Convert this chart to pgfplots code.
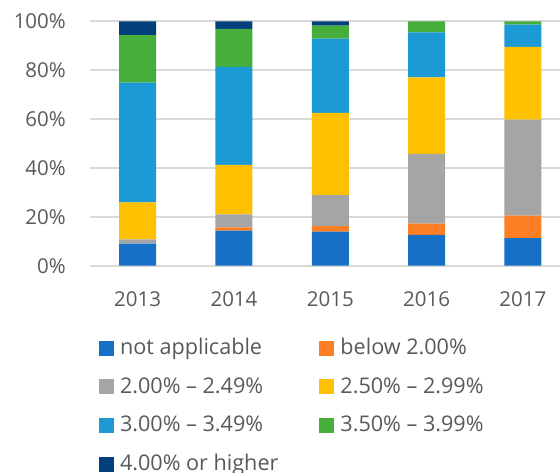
\documentclass[border=0pt]{standalone}
\usepackage{pgfplots}
\pgfplotsset{compat=1.18}
\usepackage{fontspec}
\setmainfont{Open Sans}
\definecolor{txt}{HTML}{595959}
\definecolor{grd}{HTML}{D9D9D9}
\definecolor{cNA}{HTML}{1570C6}
\definecolor{cB}{HTML}{FD7E23}
\definecolor{cG}{HTML}{A5A5A5}
\definecolor{cY}{HTML}{FFC000}
\definecolor{cL}{HTML}{1C9AD6}
\definecolor{cGr}{HTML}{46AE3A}
\definecolor{cN}{HTML}{023F7B}
\pgfplotstableread{
x na below a b c d e
0 9.0 0.0 1.8 15.1 49.0 19.4 5.7
1 14.3 1.4 5.3 20.3 40.1 15.5 3.1
2 13.9 2.3 12.7 33.6 30.4 5.3 1.8
3 12.6 4.6 28.6 31.3 18.4 4.5 0.0
4 11.3 9.2 39.3 29.7 9.1 1.4 0.0
}\data
\begin{document}
\fontsize{20}{24}\selectfont
\begin{tikzpicture}
\useasboundingbox (0,0) rectangle (560pt,473pt);
\begin{axis}[
  at={(90pt,207.3pt)}, anchor=south west,
  scale only axis, width=470pt, height=244.4pt,
  ybar stacked, bar width=37pt,
  xmin=-0.495, xmax=4.385, ymin=0, ymax=100,
  xtick={0,1,2,3,4}, xticklabels={2013,2014,2015,2016,2017},
  ytick={0,20,40,60,80,100}, yticklabels={0\%,20\%,40\%,60\%,80\%,100\%},
  ymajorgrids, grid style={grd, line width=2pt},
  axis line style={draw=none}, major tick length=0pt,
  tick label style={font=\fontsize{20.5}{24}\selectfont, text=txt},
  yticklabel style={inner sep=0pt, anchor=east, xshift=-24pt},
  xticklabel style={inner sep=0pt, anchor=north, yshift=-26pt},
  clip=false,
  legend columns=2,
  legend cell align=left,
  legend image code/.code={\fill[#1] (0pt,-7.5pt) rectangle (15pt,7.5pt);},
  legend style={draw=none, fill=none, inner sep=0pt, outer sep=0pt,
    at={(0.0192,-0.2576)}, anchor=north west,
    font=\fontsize{21.6}{26}\selectfont, text=txt,
    row sep=0pt, column sep=6pt,
    nodes={inner sep=0pt, minimum height=38.7pt},
    /tikz/column 2/.style={column sep=41pt}},
]
\addplot[fill=cNA, draw=none] table[x=x,y=na]{\data};
\addlegendentry{not applicable}
\addplot[fill=cB, draw=none] table[x=x,y=below]{\data};
\addlegendentry{below 2.00\%}
\addplot[fill=cG, draw=none] table[x=x,y=a]{\data};
\addlegendentry{2.00\% – 2.49\%}
\addplot[fill=cY, draw=none] table[x=x,y=b]{\data};
\addlegendentry{2.50\% – 2.99\%}
\addplot[fill=cL, draw=none] table[x=x,y=c]{\data};
\addlegendentry{3.00\% – 3.49\%}
\addplot[fill=cGr, draw=none] table[x=x,y=d]{\data};
\addlegendentry{3.50\% – 3.99\%}
\addplot[fill=cN, draw=none] table[x=x,y=e]{\data};
\addlegendentry{4.00\% or higher}
\end{axis}
\end{tikzpicture}
\end{document}
